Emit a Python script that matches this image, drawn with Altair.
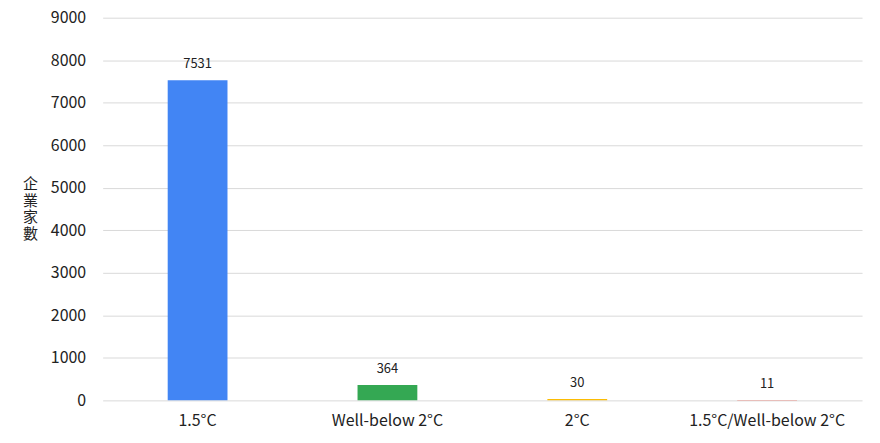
import altair as alt
import pandas as pd

categories = ["1.5°C", "Well-below 2°C", "2°C", "1.5°C/Well-below 2°C"]
values = [7531, 364, 30, 11]
colors = ["#4285F4", "#34A853", "#FBBC04", "#EA4335"]
y_ticks = [0, 1000, 2000, 3000, 4000, 5000, 6000, 7000, 8000, 9000]

df = pd.DataFrame({"cat": categories, "val": values})

FONT = "Noto Sans CJK TC"

x = alt.X("cat:N", sort=categories,
          scale=alt.Scale(paddingInner=0, paddingOuter=0),
          axis=alt.Axis(title=None, labelAngle=0, labelFontSize=16, labelColor="#222",
                        labelPadding=12, domain=False, ticks=False, grid=False))

y = alt.Y("val:Q", scale=alt.Scale(domain=[0, 9000], nice=False),
          axis=alt.Axis(values=y_ticks, format="d", title=["企", "業", "家", "數"], titleAngle=0,
                        titleAlign="center", titleBaseline="top", titleX=-73, titleY=159,
                        titleFontSize=15, titleFontWeight="normal", titleColor="#222",
                        titleLineHeight=17,
                        labelFontSize=16, labelColor="#222", labelPadding=17,
                        domain=False, ticks=False, gridColor="#d9d9d9", gridWidth=1))

bars = alt.Chart(df).mark_bar(size=60).encode(
    x=x, y=y,
    color=alt.Color("cat:N", sort=categories,
                    scale=alt.Scale(domain=categories, range=colors), legend=None),
)

labels = alt.Chart(df).mark_text(baseline="bottom", dy=-9, fontSize=13, color="#222", font=FONT).encode(
    x=alt.X("cat:N", sort=categories), y="val:Q", text="val:Q"
)

chart = (bars + labels).properties(
    width=762, height=384,
    autosize=alt.AutoSizeParams(type="none"),
    padding={"left": 95, "top": 9, "right": 10, "bottom": 30},
    background="white",
).configure(font=FONT).configure_view(stroke=None)

chart.save("out.html", embed_options={"renderer": "svg", "actions": False})
